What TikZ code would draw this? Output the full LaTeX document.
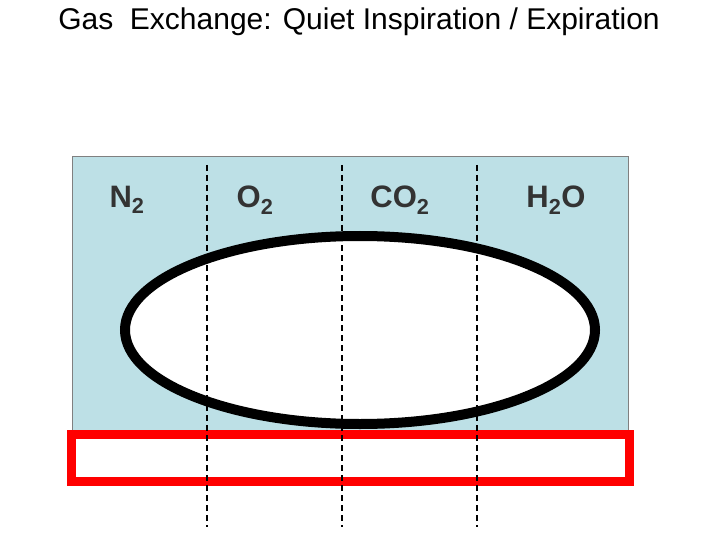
\documentclass[tikz,border=0pt]{standalone}
\usepackage{fontspec}
\setmainfont{Liberation Sans}
\definecolor{bluebg}{HTML}{BDE0E6}
\definecolor{redline}{HTML}{FF0000}
\begin{document}
\begin{tikzpicture}[x=1pt,y=-1pt,
  gas/.style={font=\fontsize{31}{34}\selectfont\bfseries, text=black!80},
  divider/.style={dash pattern=on 6pt off 4pt, line width=1.5pt}]
\useasboundingbox (0,0) rectangle (720,540);
\node (title) at (359,22) {\fontsize{30}{32}\selectfont Gas\ \ Exchange: Quiet Inspiration / Expiration};
\draw[fill=bluebg, draw=gray, line width=1pt] (72,157) rectangle (628,432);
\draw[fill=white, line width=10pt] (360,330) ellipse [x radius=235, y radius=94];
\draw[fill=white, draw=redline, line width=9pt] (71,434) rectangle (629,481);
\foreach \x in {207,342,477} \draw[divider] (\x,165) -- (\x,527);
\node[gas] (n2) at (127,200) {N$_\mathbf{2}$};
\node[gas] (o2) at (255,200) {O$_\mathbf{2}$};
\node[gas] (co2) at (400,200) {CO$_\mathbf{2}$};
\node[gas] (h2o) at (556,200) {H$_\mathbf{2}$O};
\end{tikzpicture}
\end{document}
